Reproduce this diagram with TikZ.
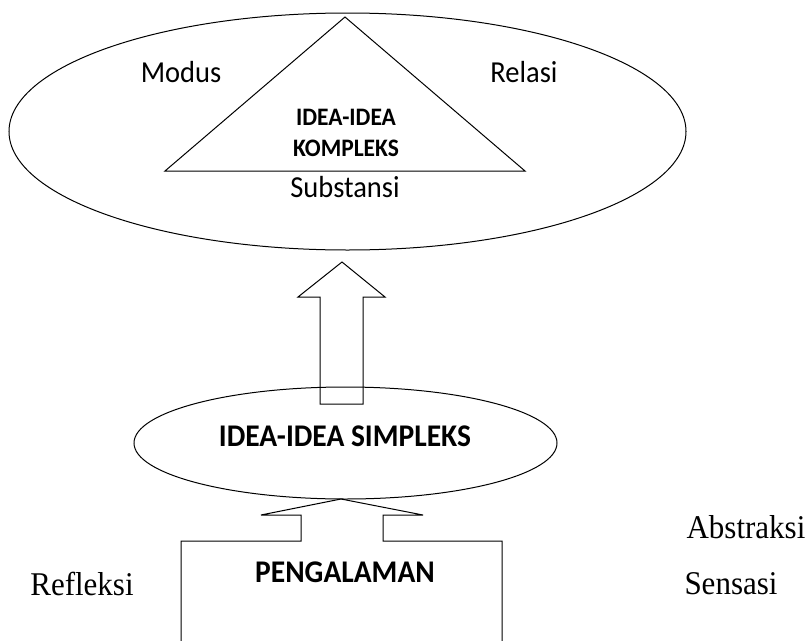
\documentclass[tikz,border=0pt]{standalone}
\usepackage{fontspec}
\setmainfont{Liberation Serif}
\newfontfamily\calib{Carlito}
\usetikzlibrary{shapes.geometric}
\newcommand\tallbox[1]{\scalebox{1}[1.07]{#1}}
\begin{document}
\begin{tikzpicture}[x=1pt,y=-1pt,line width=1pt,
  oval/.style={draw,ellipse,inner sep=0pt},
  sanslab/.style={font=\calib\fontsize{28.5}{32}\selectfont,inner sep=0pt},
  boldlab/.style={font=\calib\bfseries\fontsize{29.5}{32}\selectfont,inner sep=0pt},
  smallbold/.style={font=\calib\bfseries\fontsize{23.5}{27}\selectfont,inner sep=0pt,align=center},
  seriflab/.style={font=\fontsize{31}{33}\selectfont,inner sep=0pt},
  blockarrow/.style={draw,line join=miter}]
\useasboundingbox (0,0) rectangle (811,640);
% top ellipse and triangle
\node[oval,minimum width=677pt,minimum height=237pt] (top) at (347.5,131.5) {};
\coordinate (apex) at (345,17);
\coordinate (bl) at (165,171);
\coordinate (br) at (525,171);
\draw[line join=miter] (apex) -- (bl) -- (br) -- cycle;
\node[sanslab] (modus) at (181,72) {\tallbox{Modus}};
\node[sanslab] (relasi) at (524,72) {\tallbox{Relasi}};
\node[smallbold] (idea1) at (346,117) {\tallbox{IDEA-IDEA}};
\node[smallbold] (komp) at (346,148.5) {\tallbox{KOMPLEKS}};
\node[sanslab] (subs) at (345,187.5) {\tallbox{Substansi}};
% lower ellipse
\node[oval,minimum width=423pt,minimum height=112pt] (low) at (345.5,443) {};
\node[boldlab] (simp) at (345,436) {\tallbox{IDEA-IDEA SIMPLEKS}};
% big arrow
\coordinate (t1) at (342,262);
\draw[blockarrow] (t1) -- (385,297) -- (363,297) -- (363,404) -- (320,404) -- (320,297) -- (298,297) -- cycle;
% lower arrow + box
\coordinate (t2) at (341,499);
\draw[blockarrow] (t2) -- (423,515) -- (383,515) -- (383,541) -- (502,541) -- (502,650)
  (181,650) -- (181,541) -- (301,541) -- (301,515) -- (261,515) -- (t2);
\node[boldlab] (peng) at (345,572) {\tallbox{PENGALAMAN}};
% side labels
\node[seriflab] (refl) at (82,584) {\tallbox{Refleksi}};
\node[seriflab] (sens) at (731,584) {\tallbox{Sensasi}};
\node[seriflab] (abst) at (746,527) {\tallbox{Abstraksi}};
\end{tikzpicture}
\end{document}
